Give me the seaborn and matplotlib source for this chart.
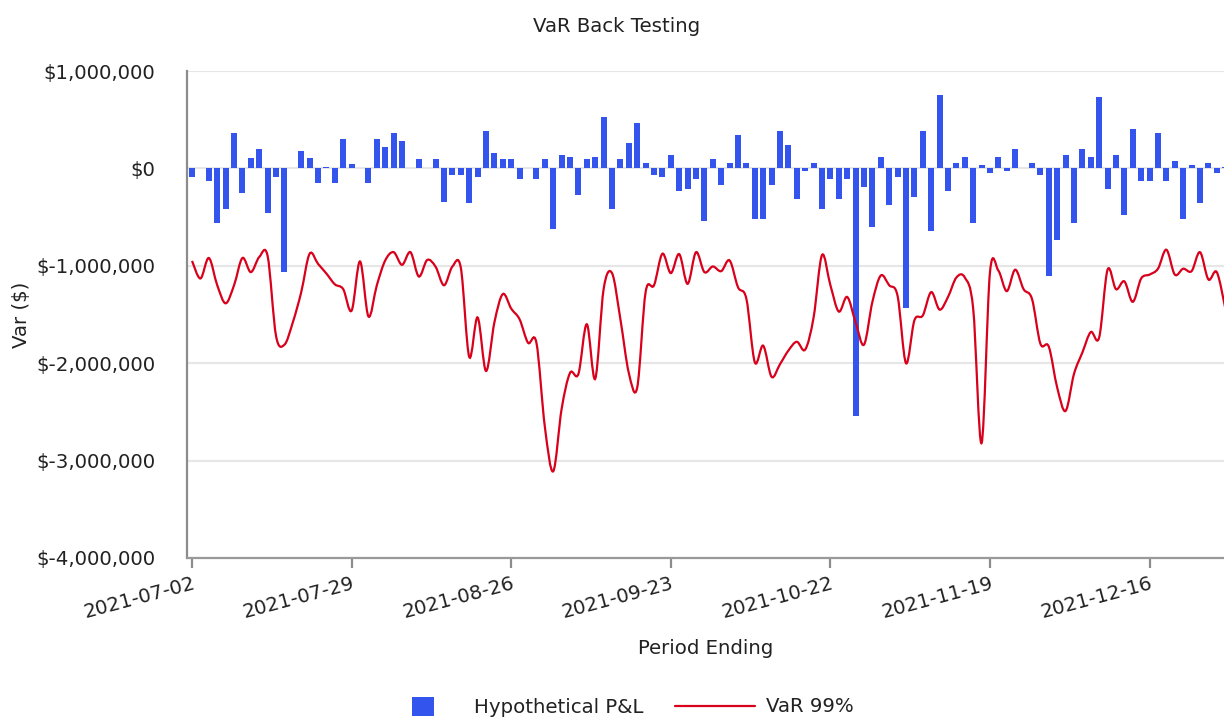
import numpy as np
import pandas as pd
import matplotlib
matplotlib.use('Agg')
import matplotlib.pyplot as plt
import seaborn as sns
from matplotlib.path import Path
from matplotlib.patches import PathPatch, Patch
from matplotlib.lines import Line2D
from matplotlib.ticker import FuncFormatter

# daily hypothetical P&L ($), one value per trading day (index 0 = 2021-07-02)
pnl = [-86000, 0, -130000, -560000, -420000, 360000, -250000, 110000, 200000, -460000,
       -90000, -1060000, 0, 175000, 110000, -150000, 14000, -150000, 300000, 50000,
       0, -150000, 300000, 220000, 360000, 280000, 0, 93000, 0, 93000,
       -340000, -70000, -70000, -360000, -90000, 380000, 155000, 93000, 93000, -110000,
       0, -110000, 93000, -625000, 134000, 113000, -275000, 93000, 113000, 526000,
       -420000, 93000, 258000, 464000, 52000, -69000, -89000, 134000, -234000, -213000,
       -110000, -543000, 93000, -172000, 52000, 340000, 52000, -522000, -522000, -172000,
       380000, 237000, -316000, -27000, 52000, -420000, -110000, -316000, -110000, -2543000,
       -190000, -605000, 113000, -378000, -89000, -1430000, -296000, 380000, -646000, 753000,
       -234000, 52000, 113000, -564000, 31000, -48000, 113000, -27000, 196000, 0,
       52000, -69000, -1100000, -730000, 134000, -564000, 196000, 113000, 732000, -213000,
       134000, -480000, 402000, -130000, -130000, 360000, -130000, 72000, -520000, 31000,
       -357000, 52000, -48000, 10000]

# VaR 99% ($ millions)
var99 = [-0.95, -1.13, -0.92, -1.20, -1.385, -1.20, -0.92, -1.065, -0.91, -0.90,
         -1.72, -1.81, -1.58, -1.27, -0.876, -0.98, -1.08, -1.19, -1.24, -1.46,
         -0.955, -1.52, -1.20, -0.945, -0.86, -0.99, -0.86, -1.11, -0.94, -1.01,
         -1.20, -1.007, -1.02, -1.935, -1.53, -2.08, -1.58, -1.29, -1.44, -1.55,
         -1.79, -1.79, -2.65, -3.11, -2.47, -2.10, -2.11, -1.60, -2.16, -1.24,
         -1.075, -1.55, -2.10, -2.25, -1.27, -1.20, -0.876, -1.075, -0.88, -1.185,
         -0.86, -1.065, -1.007, -1.055, -0.945, -1.22, -1.34, -1.99, -1.82, -2.14,
         -2.01, -1.87, -1.78, -1.86, -1.53, -0.89, -1.20, -1.47, -1.32, -1.58,
         -1.81, -1.37, -1.10, -1.20, -1.31, -2.00, -1.56, -1.51, -1.27, -1.45,
         -1.32, -1.12, -1.12, -1.44, -2.82, -1.065, -1.05, -1.26, -1.04, -1.24,
         -1.34, -1.80, -1.83, -2.25, -2.49, -2.11, -1.89, -1.68, -1.735, -1.04,
         -1.24, -1.16, -1.37, -1.13, -1.09, -1.03, -0.835, -1.09, -1.03, -1.055,
         -0.86, -1.14, -1.065, -1.43]

tick_days = [0, 19, 38, 57, 76, 95, 114]
tick_labels = ['2021-07-02', '2021-07-29', '2021-08-26', '2021-09-23',
               '2021-10-22', '2021-11-19', '2021-12-16']

BLUE = '#3355ee'
RED = '#d9001b'
TXT = '#222222'
FS = 14.2

df = pd.DataFrame({'day': np.arange(len(pnl)), 'pnl': pnl,
                   'var99': np.array(var99) * 1e6})

sns.set_theme(style='white')
plt.rcParams['font.family'] = ['DejaVu Sans']

fig = plt.figure(figsize=(12.24, 7.19), dpi=100)
ax = fig.add_axes([187 / 1224, 1 - 558 / 719, 1 - 187 / 1224, 487 / 719])

sns.barplot(data=df, x='day', y='pnl', native_scale=True, width=0.72,
            color=BLUE, saturation=1, errorbar=None, linewidth=0, ax=ax)

# smooth spline line (Catmull-Rom as cubic bezier)
pts = df[['day', 'var99']].to_numpy(dtype=float)
pad = np.vstack([pts[0], pts, pts[-1]])
verts = [pts[0]]
codes = [Path.MOVETO]
for i in range(len(pts) - 1):
    p0, p1, p2, p3 = pad[i], pad[i + 1], pad[i + 2], pad[i + 3]
    verts += [p1 + (p2 - p0) / 6, p2 - (p3 - p1) / 6, p2]
    codes += [Path.CURVE4] * 3
ax.add_patch(PathPatch(Path(verts, codes), fill=False, edgecolor=RED, lw=1.6, zorder=3))

ax.set_ylim(-4e6, 1e6)
ax.set_yticks([1e6, 0, -1e6, -2e6, -3e6, -4e6])
ax.yaxis.set_major_formatter(FuncFormatter(lambda v, p: f'${v:,.0f}'))
ax.set_xlim(-0.6, 122.86)
ax.set_xticks(tick_days)
ax.set_xticklabels(tick_labels, rotation=15, ha='right', rotation_mode='anchor')

ax.grid(axis='y', color='#e6e6e6', lw=1.5)
ax.grid(axis='x', visible=False)
ax.set_axisbelow(True)
for s in ['top', 'right']:
    ax.spines[s].set_visible(False)
ax.spines['left'].set_color('#8c8c8c')
ax.spines['left'].set_linewidth(1.6)
ax.spines['bottom'].set_color('#999999')
ax.spines['bottom'].set_linewidth(1.6)

ax.tick_params(axis='y', length=0, pad=23, labelsize=FS, labelcolor=TXT)
ax.tick_params(axis='x', bottom=True, length=7.2, width=1.6, color='#8c8c8c',
               pad=4, labelsize=FS, labelcolor=TXT)

ax.set_xlabel('Period Ending', fontsize=FS, color=TXT)
ax.xaxis.set_label_coords(0.5, -0.185)
ax.xaxis.label.set_va('center')
ax.set_ylabel('Var ($)', fontsize=FS, color=TXT)
ax.yaxis.set_label_coords((21 - 187) / 1037, 0.5)
ax.yaxis.label.set_va('center')

fig.text(617 / 1224, 1 - 26 / 719, 'VaR Back Testing', ha='center', va='center',
         fontsize=FS, color=TXT)

h1 = Patch(facecolor=BLUE, edgecolor='none', label='Hypothetical P&L')
h2 = Line2D([], [], color=RED, lw=1.6, label='VaR 99%')
fig.legend(handles=[h1], loc='center left', bbox_to_anchor=(412 / 1224, 1 - 707 / 719),
           frameon=False, fontsize=FS, handlelength=1.12, handleheight=1.12,
           handletextpad=2.03, borderpad=0, borderaxespad=0, labelcolor=TXT)
fig.legend(handles=[h2], loc='center left', bbox_to_anchor=(675 / 1224, 1 - 707 / 719),
           frameon=False, fontsize=FS, handlelength=4.06,
           handletextpad=0.56, borderpad=0, borderaxespad=0, labelcolor=TXT)

fig.savefig('out.png', dpi=100)
